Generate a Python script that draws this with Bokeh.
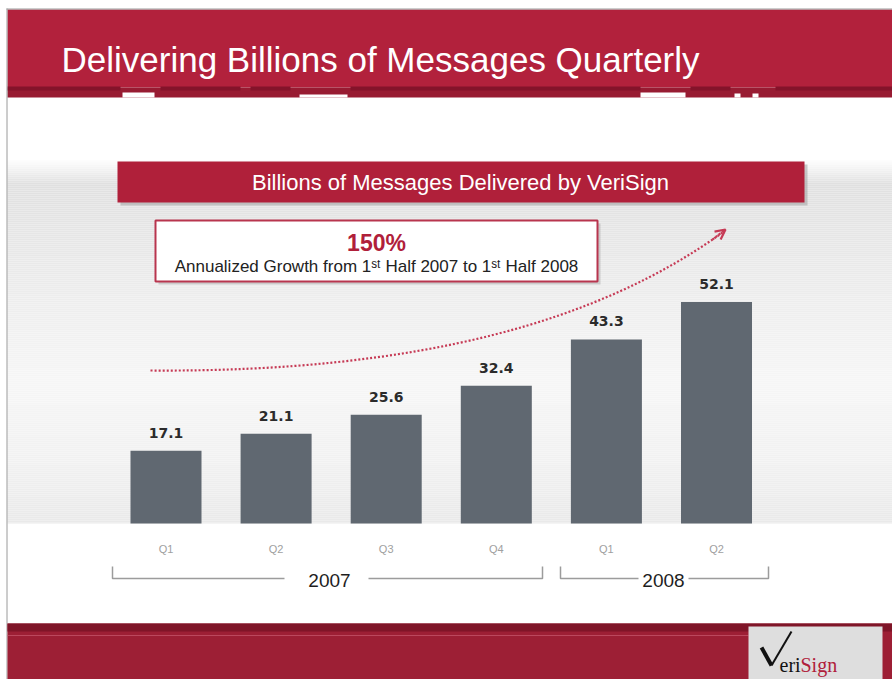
from bokeh.plotting import figure
from bokeh.models import Range1d, Arrow, OpenHead
from bokeh.core.properties import value
from bokeh.embed import file_html
from bokeh.resources import INLINE

# ---------------- data ----------------
quarters = ["Q1", "Q2", "Q3", "Q4", "Q1", "Q2"]
years = ["2007", "2008"]
messages = [17.1, 21.1, 25.6, 32.4, 43.3, 52.1]
value_labels = ["17.1", "21.1", "25.6", "32.4", "43.3", "52.1"]
title_text = "Delivering Billions of Messages Quarterly"
box_title = "Billions of Messages Delivered by VeriSign"
growth_text = "150%"
growth_note = "Annualized Growth from 1\u02e2\u1d57 Half 2007 to 1\u02e2\u1d57 Half 2008"

# ---------------- layout constants ----------------
W, H = 892, 679
BASE = 523.0      # pixel row of the bar baseline
PX_PER = 4.25     # pixels per billion
X0, DX = 165.5, 110.1
idx = list(range(len(messages)))

p = figure(width=W, height=H, x_range=Range1d(0, W), y_range=Range1d(H, 0),
           x_axis_type=None, y_axis_type=None, output_backend="svg",
           toolbar_location=None, min_border=0)
p.grid.visible = False
p.outline_line_color = None
p.background_fill_color = "white"
p.border_fill_color = "white"
p.extra_x_ranges = {"idx": Range1d(-X0 / DX, (W - X0) / DX)}
p.extra_y_ranges = {"val": Range1d(-(H - BASE) / PX_PER, BASE / PX_PER)}

# ---------------- background gradient ----------------
stops = [(158, (255, 255, 255)), (182, (224, 224, 224)), (260, (233, 233, 233)),
         (380, (246, 246, 246)), (460, (241, 241, 241)), (523, (233, 233, 233))]
gl, gr, gt, gb, gc = [], [], [], [], []
for (y0, c0), (y1, c1) in zip(stops[:-1], stops[1:]):
    y = y0
    while y < y1:
        f = (y - y0) / (y1 - y0)
        c = tuple(int(round(a + (b - a) * f)) for a, b in zip(c0, c1))
        gl.append(7); gr.append(W); gt.append(y); gb.append(min(y + 2, y1))
        gc.append("#%02x%02x%02x" % c)
        y += 2
p.quad(left=gl, right=gr, top=gt, bottom=gb, fill_color=gc, line_color=None)

# ---------------- title band ----------------
p.quad(left=[7], right=[W], top=[9], bottom=[87], fill_color="#b2213c", line_color=None)
p.quad(left=[7], right=[W], top=[87], bottom=[97], fill_color="#981b32", line_color=None)
p.quad(left=[7, 160, 250, 350, 690, 775], right=[120, 240, 290, 640, 730, W],
       top=[86, 86, 86, 86, 86, 86], bottom=[90, 90, 90, 90, 90, 90],
       fill_color="#84132a", line_color=None)
p.quad(left=[122, 299, 640, 734, 752], right=[154, 347, 685, 740, 758],
       top=[92, 94, 92, 93, 93], bottom=[97, 97, 97, 97, 97],
       fill_color="white", line_color=None)
p.text(x=[61], y=[59], text=[title_text], text_color="white",
       text_font=value("Liberation Sans"), text_font_size="35px",
       text_baseline="middle", text_align="left")

# frame lines
p.line(x=[6, W], y=[8.5, 8.5], line_color="#9a9a9a", line_width=1)
p.line(x=[6.5, 6.5], y=[8, H], line_color="#9a9a9a", line_width=1)

# ---------------- header box ----------------
p.quad(left=[120], right=[807], top=[164], bottom=[205], fill_color="#999999",
       fill_alpha=0.5, line_color=None)
p.quad(left=[117], right=[804], top=[161], bottom=[202], fill_color="#b0203a",
       line_color=None)
p.text(x=[460], y=[182], text=[box_title], text_color="white",
       text_font=value("Liberation Sans"), text_font_size="22px",
       text_baseline="middle", text_align="center")

# ---------------- annotation box ----------------
p.quad(left=[158], right=[600], top=[223], bottom=[284], fill_color="#aaaaaa",
       fill_alpha=0.5, line_color=None)
p.quad(left=[155], right=[597], top=[220], bottom=[281], fill_color="white",
       line_color="#b8354e", line_width=2)
p.text(x=[376], y=[242], text=[growth_text], text_color="#b0203a",
       text_font=value("Liberation Sans"), text_font_style="bold",
       text_font_size="23px", text_baseline="middle", text_align="center")
p.text(x=[376], y=[266], text=[growth_note], text_color="#222222",
       text_font=value("Liberation Sans"), text_font_size="17px",
       text_baseline="middle", text_align="center")

# ---------------- growth arrow ----------------
p.bezier(x0=[150], y0=[370], x1=[722], y1=[232], cx0=[420], cy0=[372],
         cx1=[600], cy1=[320], line_color="#c63a55", line_width=2.2,
         line_dash="2 2")
p.add_layout(Arrow(end=OpenHead(size=10, line_color="#c63a55", line_width=2.2),
                   x_start=712, y_start=239, x_end=725, y_end=229,
                   line_color="#c63a55", line_width=2.2, line_dash="2 2"))

# ---------------- bars ----------------
p.vbar(x=idx, top=messages, bottom=0, width=0.645, fill_color="#606871",
       line_color=None, x_range_name="idx", y_range_name="val")
p.text(x=idx, y=messages, text=value_labels, x_range_name="idx", y_range_name="val",
       text_align="center", text_baseline="bottom", y_offset=-13,
       text_font=value("DejaVu Sans"), text_font_style="bold",
       text_font_size="14px", text_color="#2b2b2b")
p.text(x=idx, y=[0] * len(idx), text=quarters, x_range_name="idx", y_range_name="val",
       text_align="center", text_baseline="middle", y_offset=25,
       text_font=value("Liberation Sans"), text_font_size="11px",
       text_color="#a0a0a0")

# ---------------- year brackets ----------------
bk = "#9c9c9c"
p.multi_line(xs=[[112, 112, 284], [368, 542, 542], [560, 560, 638], [688, 768, 768]],
             ys=[[566, 578, 578], [578, 578, 566], [566, 578, 578], [578, 578, 566]],
             line_color=bk, line_width=1.5)
p.text(x=[329, 663], y=[580, 580], text=years, text_color="#1e1e1e",
       text_font=value("Liberation Sans"), text_font_size="19px",
       text_baseline="middle", text_align="center")

# ---------------- footer ----------------
p.quad(left=[7], right=[W], top=[623], bottom=[H], fill_color="#9d1f35", line_color=None)
p.quad(left=[7], right=[W], top=[623], bottom=[631], fill_color="#7f1528", line_color=None)
p.line(x=[7, 748], y=[635, 635], line_color="#c85a70", line_width=1, line_alpha=0.7)
p.quad(left=[748], right=[882], top=[626], bottom=[H], fill_color="#dedede", line_color=None)
# check-mark "V" of the logo
p.line(x=[761, 771], y=[647, 665], line_color="#111111", line_width=4)
p.line(x=[771, 791], y=[665, 631], line_color="#111111", line_width=2)
p.text(x=[779], y=[664], text=["eri"], text_color="#111111",
       text_font=value("Liberation Serif"), text_font_size="20px",
       text_baseline="alphabetic", text_align="left")
p.text(x=[800], y=[664], text=["Sign"], text_color="#b0203a",
       text_font=value("Liberation Serif"), text_font_size="20px",
       text_baseline="alphabetic", text_align="left")

open("out.html", "w").write(file_html(p, INLINE))
